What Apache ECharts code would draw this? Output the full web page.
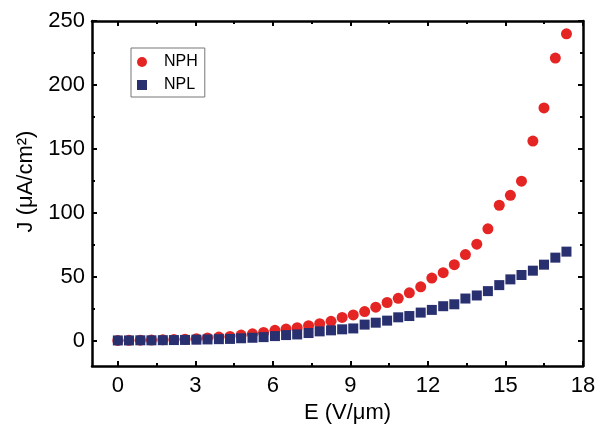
<!DOCTYPE html>
<html>
<head>
<meta charset="utf-8">
<script src="https://cdn.jsdelivr.net/npm/echarts@6/dist/echarts.min.js"></script>
<style>html,body{margin:0;padding:0;background:#fff;}#c{width:605px;height:425px;}</style>
</head>
<body>
<div id="c"></div>
<script>
const E = [0, 0.43, 0.87, 1.30, 1.74, 2.17, 2.60, 3.04, 3.47, 3.91, 4.34, 4.77, 5.21, 5.64, 6.08, 6.51, 6.94, 7.38, 7.81, 8.25, 8.68, 9.11, 9.55, 9.98, 10.42, 10.85, 11.28, 11.72, 12.15, 12.59, 13.02, 13.45, 13.89, 14.32, 14.76, 15.19, 15.62, 16.06, 16.49, 16.93, 17.36];
const NPH = [0, 0.1, 0.2, 0.3, 0.5, 0.7, 1.0, 1.4, 2.0, 2.6, 3.1, 4.2, 5.2, 6.3, 7.9, 8.9, 10, 11.5, 13.1, 15, 18, 20, 22.6, 26, 29.7, 33, 37.3, 42, 48.8, 53, 59.3, 67.2, 75.3, 87.4, 105.8, 113.6, 124.6, 156, 182, 221, 240];
const NPL = [0, 0, 0.1, 0.1, 0.2, 0.3, 0.4, 0.6, 0.8, 1.0, 1.2, 1.7, 2.1, 2.6, 3.4, 4.2, 4.7, 5.8, 7.1, 7.9, 8.7, 9.4, 12.4, 13.9, 15.5, 18.1, 19.1, 21.8, 23.9, 26.8, 28.3, 32.8, 35.2, 38.6, 43.3, 47.8, 51.2, 54.6, 59.3, 64.8, 69.5];
const xMajor = [0, 3, 6, 9, 12, 15, 18];
const xMinor = [1.5, 4.5, 7.5, 10.5, 13.5, 16.5];
const yMajor = [0, 50, 100, 150, 200, 250];
const yMinor = [25, 75, 125, 175, 225];

const FONT = '"Liberation Sans", Arial, sans-serif';
const lineStyle = {color: '#000', width: 2.5};
function xAxis(pos, ticks, len, showLine, showLabel, extra) {
  return Object.assign({
    type: 'value', position: pos, min: -1, max: 18,
    axisLine: {show: showLine, onZero: false, lineStyle: lineStyle},
    axisTick: {show: true, inside: true, length: len, customValues: ticks, lineStyle: {color: '#000', width: 2}},
    axisLabel: {show: showLabel, customValues: ticks, color: '#000', fontSize: 22, fontFamily: FONT, margin: 9},
    splitLine: {show: false}
  }, extra || {});
}
function yAxis(pos, ticks, len, showLine, showLabel, extra) {
  return Object.assign({
    type: 'value', position: pos, min: -20, max: 250,
    axisLine: {show: showLine, onZero: false, lineStyle: lineStyle},
    axisTick: {show: true, inside: true, length: len, customValues: ticks, lineStyle: {color: '#000', width: 2}},
    axisLabel: {show: showLabel, customValues: ticks, color: '#000', fontSize: 22, fontFamily: FONT, margin: 7},
    splitLine: {show: false}
  }, extra || {});
}
const chart = echarts.init(document.getElementById('c'), null, {renderer: 'canvas'});
chart.setOption({
  animation: false,
  backgroundColor: '#fff',
  grid: {left: 92, right: 22, top: 21, bottom: 59, containLabel: false, outerBoundsMode: 'none'},
  legend: {
    orient: 'vertical', left: 131, top: 48,
    padding: [6, 7, 4, 6], itemWidth: 10, itemHeight: 10, itemGap: 7,
    borderColor: '#777', borderWidth: 1, backgroundColor: '#fff',
    textStyle: {fontSize: 16, fontFamily: FONT, color: '#000', padding: [0, 0, 0, 12]},
    data: ['NPH', 'NPL']
  },
  xAxis: [
    xAxis('bottom', xMajor, 5, true, true, {name: 'E (V/\u03bcm)', nameLocation: 'middle', nameGap: 32,
      nameTextStyle: {fontSize: 22, fontFamily: FONT, color: '#000', padding: [0, 0, 0, 20]}}),
    xAxis('bottom', xMinor, 3, false, false),
    xAxis('top', xMajor, 5, true, false),
    xAxis('top', xMinor, 3, false, false)
  ],
  yAxis: [
    yAxis('left', yMajor, 5, true, true, {name: 'J (\u03bcA/cm\u00b2)', nameLocation: 'middle', nameGap: 50,
      nameTextStyle: {fontSize: 22, fontFamily: FONT, color: '#000', padding: [0, 0, 0, 24]}}),
    yAxis('left', yMinor, 3, false, false),
    yAxis('right', yMajor, 5, true, false),
    yAxis('right', yMinor, 3, false, false)
  ],
  series: [
    {name: 'NPH', type: 'scatter', symbol: 'circle', symbolSize: 11, xAxisIndex: 0, yAxisIndex: 0,
      itemStyle: {color: '#e52523', opacity: 1}, data: E.map((x, i) => [x, NPH[i]])},
    {name: 'NPL', type: 'scatter', symbol: 'rect', symbolSize: 10, xAxisIndex: 0, yAxisIndex: 0,
      itemStyle: {color: '#283070', opacity: 1}, data: E.map((x, i) => [x, NPL[i]])}
  ]
});
</script>
</body>
</html>
